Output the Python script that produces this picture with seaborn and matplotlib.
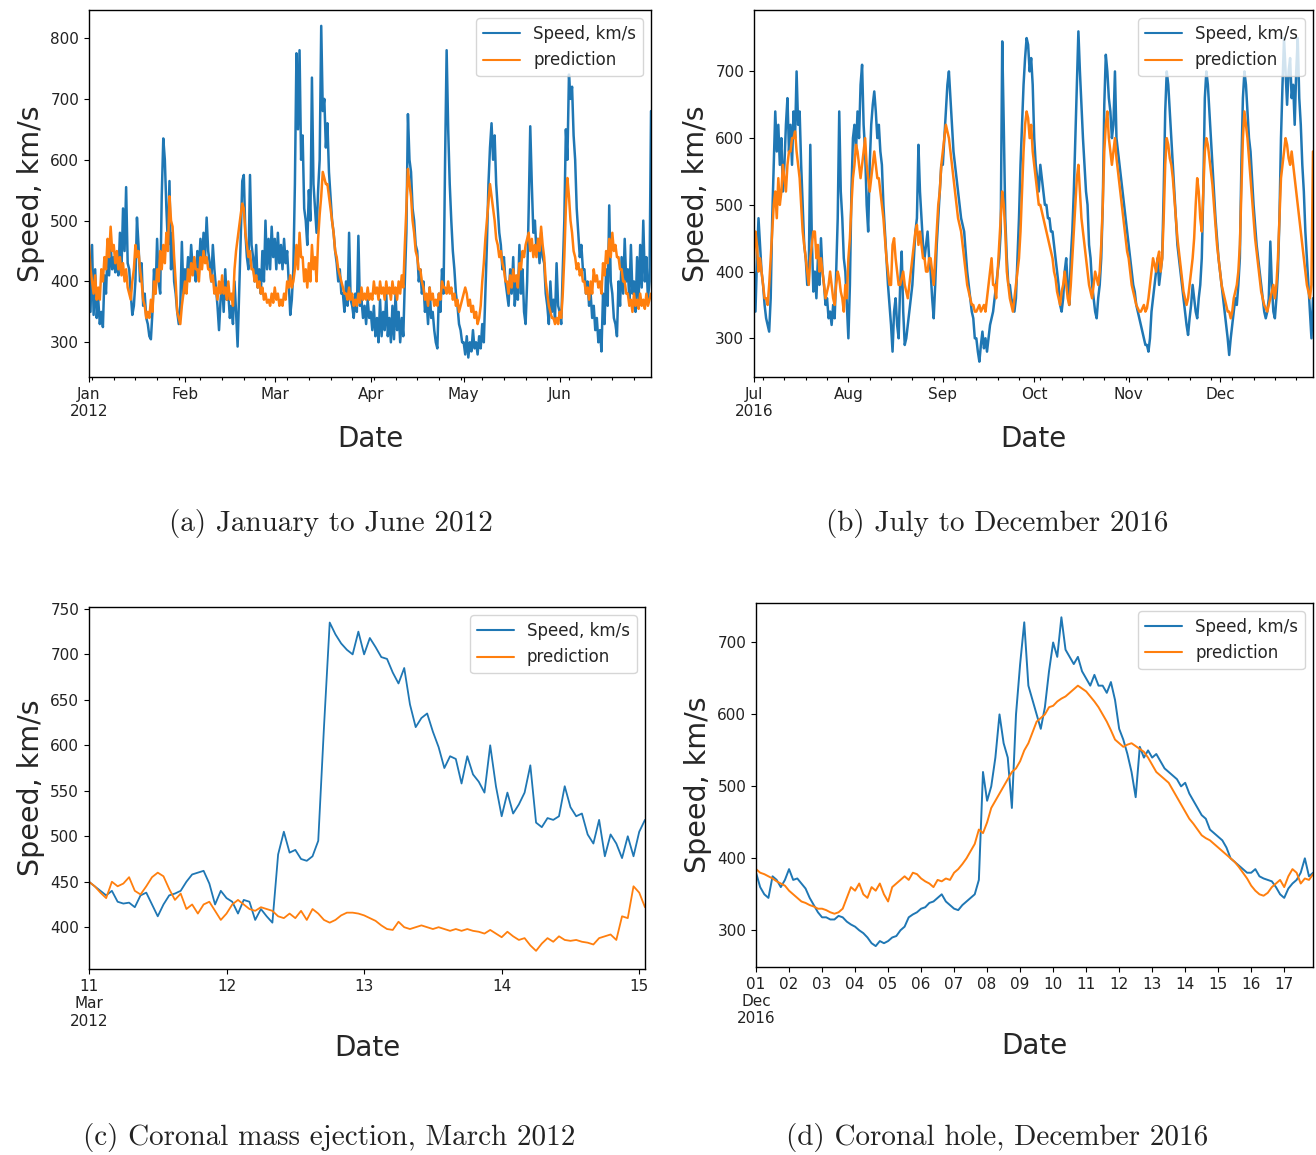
import numpy as np
import pandas as pd
import matplotlib
matplotlib.use("Agg")
import matplotlib.pyplot as plt
import matplotlib.dates as mdates
import seaborn as sns

# ---------------- data ----------------
# (a) January - June 2012, values every 12 h starting 2012-01-01
a_start = "2012-01-01"
a_speed = [430,350, 460,345, 420,340, 370,330, 350,325, 410,380, 450,410, 460,420, 440,415, 430,410,
           480,420, 520,450, 555,430, 420,380, 345,360, 400,505, 460,400, 430,360, 380,340, 330,310,
           305,350, 420,380, 470,400, 380,540, 635,600, 520,460, 565,420, 480,400, 380,350, 330,360,
           465,380, 420,400, 440,410, 460,420, 420,400, 450,420, 470,430, 480,440, 505,450, 430,400,
           460,420, 390,360, 320,370, 400,350, 420,370, 380,340, 360,330, 400,350, 293,380, 470,565,
           575,480, 440,420, 575,460, 440,400, 460,390, 420,380, 450,400, 500,420, 470,420, 490,440,
           470,420, 480,430, 460,420, 470,430, 450,400, 345,370, 420,560, 775,650, 780,600, 640,520,
           500,460, 550,500, 735,560, 520,480, 550,600, 820,680, 700,620, 660,580, 540,500, 480,450,
           430,400, 420,380, 380,350, 400,360, 480,370, 360,340, 380,350, 475,360, 370,340, 360,330,
           370,340, 350,320, 360,310, 340,300, 370,310, 350,320, 380,310, 340,300, 360,305, 380,320,
           350,300, 340,310, 400,480, 675,600, 580,520, 500,460, 450,400, 420,380, 400,350, 370,330,
           390,340, 350,320, 300,290, 380,350, 420,380, 600,780, 650,560, 500,450, 420,380, 360,330,
           320,300, 300,280, 310,275, 300,285, 320,290, 300,280, 310,290, 330,300, 380,460, 560,620,
           660,600, 640,560, 520,480, 460,420, 440,400, 380,360, 420,380, 440,360, 400,370, 460,380,
           420,350, 330,400, 520,655, 560,480, 500,450, 470,430, 480,440, 430,380, 360,330, 400,350,
           370,340, 430,360, 350,330, 420,500, 650,600, 740,700, 720,640, 600,520, 480,440, 460,420,
           420,380, 400,360, 380,340, 360,320, 340,300, 320,285, 380,330, 420,360, 525,400, 380,340,
           330,310, 400,360, 440,380, 470,400, 420,370, 460,380, 400,350, 440,370, 460,390, 500,400,
           440,370, 400,680]
a_pred = [460,420, 400,380, 410,370, 390,370, 420,400, 440,420, 470,440, 490,450, 460,430, 450,420,
          440,410, 430,400, 420,390, 380,370, 400,420, 460,440, 450,420, 400,370, 360,340, 350,340,
          370,350, 400,380, 420,400, 450,420, 460,430, 480,450, 540,500, 490,440, 400,350, 340,330,
          360,380, 400,380, 420,400, 430,410, 440,420, 420,400, 440,420, 450,430, 440,420, 420,400,
          410,380, 390,370, 400,380, 410,380, 390,370, 400,370, 380,360, 420,450, 470,490, 510,528,
          520,480, 460,440, 450,420, 420,400, 410,390, 400,380, 390,370, 380,365, 370,360, 380,365,
          390,370, 380,360, 370,360, 380,370, 400,390, 410,390, 400,420, 460,420, 480,440, 440,400,
          420,390, 430,400, 460,420, 440,400, 470,510, 540,580, 570,560, 560,540, 520,500, 480,450,
          440,420, 410,400, 390,380, 380,370, 390,370, 380,360, 370,360, 380,365, 390,370, 380,370,
          390,370, 380,370, 400,380, 390,370, 400,380, 390,370, 400,380, 390,370, 400,380, 390,370,
          400,380, 410,390, 460,520, 585,560, 540,500, 480,450, 440,420, 420,400, 390,370, 380,360,
          390,370, 380,360, 370,360, 380,370, 400,390, 390,380, 400,380, 390,370, 380,360, 370,350,
          360,370, 380,390, 380,360, 370,350, 360,340, 350,330, 340,360, 400,430, 470,500, 530,560,
          540,520, 500,470, 460,440, 450,430, 420,400, 400,380, 410,390, 420,400, 410,390, 430,420,
          450,440, 460,470, 480,450, 470,440, 460,440, 470,450, 490,460, 440,400, 380,360, 350,340,
          340,330, 340,330, 350,340, 380,440, 520,570, 540,500, 480,450, 440,420, 430,410, 420,400,
          400,380, 390,370, 400,380, 420,400, 410,390, 400,380, 430,410, 450,430, 470,440, 480,450,
          460,440, 440,420, 420,400, 400,380, 380,360, 370,350, 380,360, 370,355, 380,360, 370,355,
          380,360, 370,380]
a_ticks = ["2012-01-01", "2012-02-01", "2012-03-01", "2012-04-01", "2012-05-01", "2012-06-01"]
a_ticklabels = ["Jan\n2012", "Feb", "Mar", "Apr", "May", "Jun"]

# (b) July - December 2016, values every 12 h starting 2016-07-01
b_start = "2016-07-01"
b_speed = [400,340, 420,480, 440,400, 380,350, 330,320, 310,360, 480,560, 640,580, 620,560, 600,520,
           560,620, 660,580, 620,560, 640,600, 700,620, 640,560, 500,440, 420,380, 400,590, 450,370,
           400,360, 420,380, 450,400, 380,350, 360,330, 340,320, 350,330, 400,480, 640,520, 480,420,
           400,350, 300,380, 520,600, 620,580, 640,600, 680,710, 620,580, 500,460, 560,620, 650,670,
           640,600, 620,580, 560,500, 460,420, 380,350, 320,280, 340,360, 320,300, 380,430, 340,290,
           300,320, 340,360, 380,420, 460,480, 590,520, 480,440, 420,440, 460,420, 400,360, 330,380,
           440,480, 520,560, 560,600, 640,680, 700,660, 620,580, 560,540, 520,500, 480,470, 460,430,
           400,380, 360,340, 330,300, 300,280, 265,290, 310,285, 300,280, 300,320, 330,340, 360,380,
           400,420, 460,745, 620,480, 420,380, 380,360, 350,340, 360,420, 480,560, 620,680, 720,750,
           740,700, 720,680, 600,560, 540,520, 560,540, 520,500, 500,480, 480,460, 460,440, 420,400,
           380,350, 340,360, 400,420, 380,350, 420,460, 520,600, 680,760, 700,650, 600,560, 520,500,
           440,420, 380,360, 340,330, 360,380, 420,500, 650,725, 700,660, 640,600, 620,700, 600,580,
           560,540, 520,500, 480,460, 440,420, 400,380, 370,350, 340,330, 320,310, 300,290, 290,280,
           300,340, 360,380, 400,420, 380,400, 420,520, 640,700, 680,640, 600,560, 520,480, 440,420,
           400,380, 360,340, 320,305, 330,350, 380,360, 340,330, 360,380, 420,520, 660,700, 680,640,
           600,560, 520,480, 450,420, 400,380, 360,340, 320,300, 275,300, 320,340, 360,350, 380,420,
           560,660, 700,680, 640,600, 580,540, 500,470, 440,420, 400,380, 360,340, 330,340, 360,445,
           380,340, 330,360, 400,480, 600,680, 750,700, 650,700, 720,660, 680,620, 700,750, 660,620,
           560,520, 460,420, 380,340, 300,360]
b_pred = [420,460, 440,400, 420,400, 380,360, 360,350, 380,420, 460,500, 520,480, 540,500, 520,560,
          540,520, 560,580, 580,600, 600,610, 580,560, 540,500, 460,440, 420,400, 380,420, 440,460,
          460,420, 440,400, 420,400, 380,360, 370,380, 400,380, 360,350, 380,400, 390,370, 360,340,
          380,360, 420,450, 500,540, 560,590, 580,560, 540,560, 580,600, 560,540, 520,540, 560,580,
          560,540, 540,520, 500,480, 450,420, 400,380, 380,440, 450,420, 400,380, 380,390, 400,380,
          370,360, 380,400, 420,440, 460,470, 440,460, 440,420, 420,400, 400,420, 420,400, 380,420,
          460,500, 520,560, 580,600, 620,610, 600,580, 560,540, 520,500, 480,470, 460,440, 420,400,
          380,370, 360,350, 350,340, 340,345, 350,340, 345,350, 340,360, 380,400, 420,380, 380,360,
          400,440, 480,520, 500,460, 400,380, 360,350, 340,360, 380,400, 420,460, 520,580, 620,640,
          630,600, 620,580, 560,540, 520,500, 500,490, 480,470, 460,450, 440,430, 420,400, 390,370,
          360,350, 370,380, 400,380, 360,350, 380,420, 460,500, 540,560, 520,480, 460,440, 420,400,
          380,370, 360,380, 400,390, 380,400, 440,500, 580,620, 640,600, 580,560, 580,600, 570,550,
          530,510, 490,470, 450,430, 420,400, 380,370, 360,350, 345,340, 340,345, 350,340, 345,360,
          380,400, 420,410, 400,420, 430,400, 420,480, 560,600, 590,570, 560,540, 510,480, 450,430,
          410,390, 370,360, 350,360, 380,400, 420,450, 500,540, 520,480, 460,520, 580,600, 590,570,
          550,530, 500,470, 440,420, 400,380, 370,360, 350,340, 340,330, 340,360, 370,380, 400,440,
          520,600, 640,620, 600,570, 540,510, 480,450, 430,410, 390,370, 360,350, 345,340, 350,360,
          370,380, 360,380, 420,480, 540,560, 580,600, 590,570, 560,580, 560,540, 520,500, 480,460,
          440,420, 400,380, 370,360, 380,580]
b_ticks = ["2016-07-01", "2016-08-01", "2016-09-01", "2016-10-01", "2016-11-01", "2016-12-01"]
b_ticklabels = ["Jul\n2016", "Aug", "Sep", "Oct", "Nov", "Dec"]

# (c) Coronal mass ejection, hourly from 2012-03-11 00:00
c_start = "2012-03-11"
c_speed = [450, 445, 440, 435, 440, 428, 426, 427, 422, 435, 438, 425, 412, 425, 435, 437,
           440, 450, 458, 460, 462, 448, 425, 440, 432, 428, 415, 430, 428, 408, 420, 412,
           405, 480, 505, 482, 485, 475, 473, 478, 495, 620, 735, 722, 712, 705, 700, 725,
           700, 718, 708, 697, 695, 680, 668, 685, 645, 620, 630, 635, 615, 598, 575, 588,
           585, 558, 588, 568, 560, 548, 600, 555, 522, 548, 525, 535, 548, 578, 515, 510,
           520, 518, 522, 555, 532, 522, 525, 502, 492, 518, 478, 502, 492, 476, 500, 478,
           505, 518]
c_pred = [450, 445, 438, 432, 450, 445, 448, 455, 440, 436, 445, 455, 460, 456, 442, 430,
          437, 420, 425, 415, 425, 428, 418, 408, 415, 425, 430, 425, 420, 418, 422, 420,
          418, 412, 410, 415, 410, 418, 408, 420, 415, 408, 405, 408, 413, 416, 416, 415,
          413, 410, 407, 402, 398, 397, 406, 400, 398, 400, 402, 400, 398, 400, 398, 396,
          398, 396, 398, 396, 395, 393, 397, 393, 389, 395, 390, 386, 388, 380, 374, 382,
          388, 384, 390, 386, 385, 386, 384, 383, 381, 388, 390, 392, 386, 412, 410, 445,
          438, 422]
c_ticks = ["2012-03-11", "2012-03-12", "2012-03-13", "2012-03-14", "2012-03-15"]
c_ticklabels = ["11\nMar\n2012", "12", "13", "14", "15"]

# (d) Coronal hole, every 3 h from 2016-12-01 00:00
d_start = "2016-12-01"
d_speed = [380, 360, 350, 345, 375, 370, 360, 370,
           385, 370, 372, 365, 358, 345, 335, 325,
           318, 318, 315, 315, 320, 318, 312, 308,
           305, 300, 296, 290, 282, 278, 285, 282,
           285, 290, 292, 300, 305, 318, 322, 325,
           330, 332, 338, 340, 345, 350, 340, 335,
           330, 328, 335, 340, 345, 350, 370, 520,
           480, 500, 540, 600, 560, 540, 470, 600,
           670, 728, 640, 620, 600, 580, 610, 660,
           700, 680, 735, 690, 680, 670, 680, 660,
           650, 640, 655, 640, 640, 630, 645, 620,
           580, 565, 545, 520, 485, 555, 540, 550,
           540, 545, 535, 525, 520, 515, 510, 500,
           505, 490, 480, 470, 460, 455, 440, 435,
           430, 425, 415, 400, 395, 390, 385, 380,
           380, 385, 375, 372, 370, 368, 360, 350,
           345, 358, 365, 370, 380, 400, 375, 380]
d_pred = [385, 380, 378, 375, 372, 368, 365, 362,
          355, 350, 345, 340, 338, 335, 333, 330,
          330, 328, 325, 323, 325, 330, 345, 360,
          355, 365, 350, 345, 360, 355, 365, 350,
          340, 360, 365, 370, 375, 370, 380, 378,
          372, 368, 365, 360, 370, 368, 372, 370,
          380, 385, 392, 400, 410, 420, 440, 435,
          450, 470, 480, 490, 500, 510, 520, 525,
          535, 550, 560, 575, 590, 595, 600, 610,
          612, 618, 622, 625, 630, 635, 640, 636,
          632, 625, 618, 610, 600, 590, 578, 565,
          560, 555, 558, 560, 556, 552, 548, 540,
          530, 520, 515, 510, 505, 495, 485, 475,
          465, 455, 448, 440, 432, 428, 425, 420,
          415, 410, 405, 400, 395, 388, 380, 372,
          362, 355, 350, 348, 352, 360, 365, 370,
          360, 375, 385, 380, 365, 372, 370, 378]
d_ticks = ["2016-12-%02d" % i for i in range(1, 18)]
d_ticklabels = ["01\nDec\n2016"] + ["%02d" % i for i in range(2, 18)]

captions = ["(a) January to June 2012", "(b) July to December 2016",
            "(c) Coronal mass ejection, March 2012", "(d) Coronal hole, December 2016"]

# ---------------- styling ----------------
sns.set_theme(style="ticks")
plt.rcParams["font.family"] = ["DejaVu Sans"]
plt.rcParams["xtick.labelsize"] = 11
plt.rcParams["ytick.labelsize"] = 11
plt.rcParams["axes.edgecolor"] = "black"
plt.rcParams["axes.linewidth"] = 1.0

BLUE = "#1f77b4"
ORANGE = "#ff7f0e"

fig = plt.figure(figsize=(13.16, 11.55), dpi=100)
ax_a = fig.add_axes([0.0676, 0.6736, 0.4271, 0.3177])
ax_b = fig.add_axes([0.5729, 0.6736, 0.4248, 0.3177])
ax_c = fig.add_axes([0.0676, 0.1610, 0.4225, 0.3134])
ax_d = fig.add_axes([0.5745, 0.1628, 0.4233, 0.3152])

panels = [
    (ax_a, a_start, "12h", a_speed, a_pred, a_ticks, a_ticklabels, (243, 846), [300, 400, 500, 600, 700, 800], True, 1.8),
    (ax_b, b_start, "12h", b_speed, b_pred, b_ticks, b_ticklabels, (242, 792), [300, 400, 500, 600, 700], True, 1.8),
    (ax_c, c_start, "1h", c_speed, c_pred, c_ticks, c_ticklabels, (354, 752), [400, 450, 500, 550, 600, 650, 700, 750], False, 1.3),
    (ax_d, d_start, "3h", d_speed, d_pred, d_ticks, d_ticklabels, (249, 755), [300, 400, 500, 600, 700], False, 1.4),
]

for ax, start, freq, speed, pred, ticks, ticklabels, ylim, yticks, weekly, lw in panels:
    dates = pd.date_range(start, periods=len(speed), freq=freq)
    df = pd.DataFrame({"Date": dates, "Speed, km/s": speed, "prediction": pred})
    sns.lineplot(data=df, x="Date", y="Speed, km/s", ax=ax, color=BLUE, lw=lw,
                 label="Speed, km/s", estimator=None)
    sns.lineplot(data=df, x="Date", y="prediction", ax=ax, color=ORANGE, lw=lw,
                 label="prediction", estimator=None)
    ax.set_xlim(dates[0], dates[-1])
    ax.set_ylim(*ylim)
    ax.set_yticks(yticks)
    ax.set_xticks(pd.to_datetime(ticks))
    ax.set_xticklabels(ticklabels)
    if weekly:
        ax.xaxis.set_minor_locator(mdates.WeekdayLocator(byweekday=mdates.MO))
        ax.tick_params(axis="x", which="minor", length=2.5, width=0.8, color="black")
    ax.tick_params(axis="both", which="major", length=3.5, width=0.8, color="black", labelcolor="#222222")
    ax.set_xlabel("Date", fontsize=20)
    ax.set_ylabel("Speed, km/s", fontsize=20.5)
    for s in ax.spines.values():
        s.set_visible(True)
        s.set_color("black")
        s.set_linewidth(1.0)
    leg = ax.legend(loc="upper right", fontsize=12, frameon=True, handlelength=2.2)
    leg.get_frame().set_edgecolor("#cccccc")
    for line in leg.get_lines():
        line.set_linewidth(1.5)

cap_pos = [(331, 523), (997, 523), (329, 1137), (997, 1137)]
for (px, py), txt in zip(cap_pos, captions):
    fig.text(px / 1316, 1 - py / 1155, txt, ha="center", va="center",
             family="cmr10", fontsize=21, color="#222222")

fig.savefig("out.png", dpi=100)
